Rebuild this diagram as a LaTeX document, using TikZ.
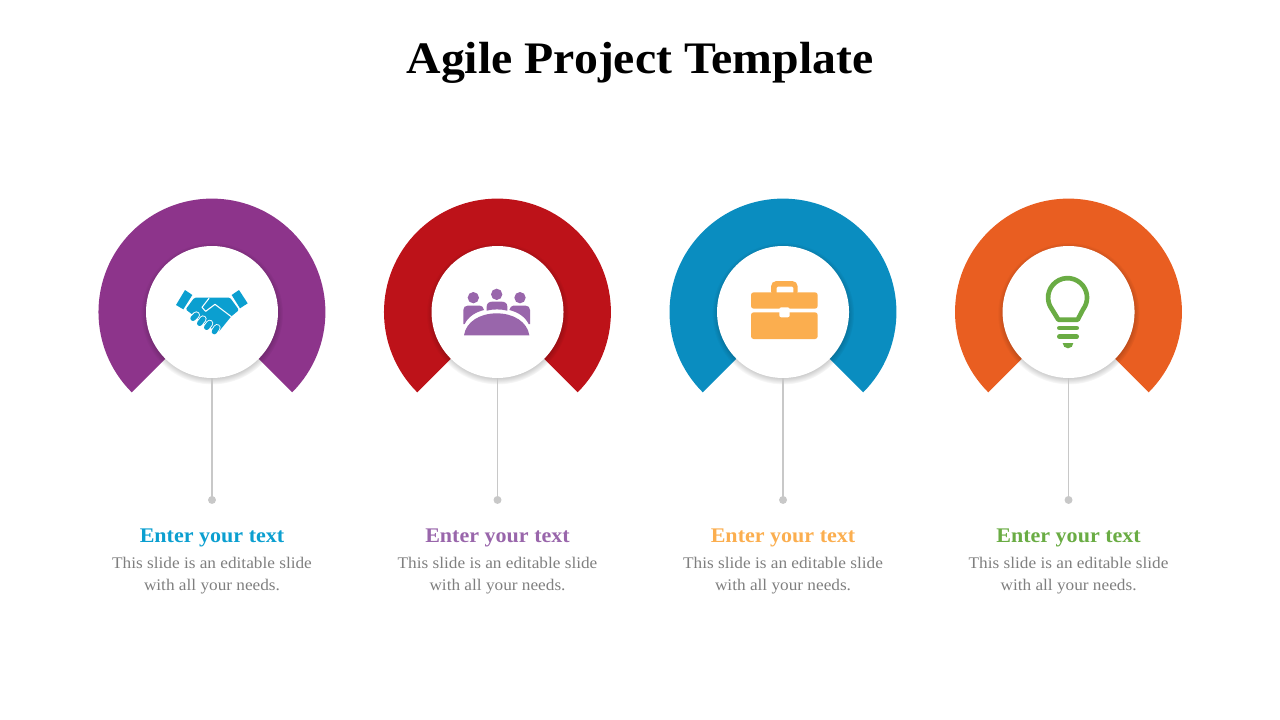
\documentclass[tikz,border=0pt]{standalone}
\usepackage{fontspec}
\setmainfont[FakeStretch=1.06]{Liberation Serif}
\usepackage{xcolor}
\usetikzlibrary{positioning,backgrounds,fadings,calc}
\definecolor{ring-p}{HTML}{8D348B}
\definecolor{ring-r}{HTML}{BD1219}
\definecolor{ring-b}{HTML}{0A8DC0}
\definecolor{ring-o}{HTML}{E95E21}
\definecolor{icon-b}{HTML}{0B9FD0}
\definecolor{icon-p}{HTML}{9966AB}
\definecolor{icon-o}{HTML}{FBAE4F}
\definecolor{icon-g}{HTML}{6AAC44}
\definecolor{gray-a}{HTML}{C8C8C8}
\definecolor{gray-b}{HTML}{7F7F7F}
\begin{document}
\begin{tikzpicture}
[
x=0.75pt, y=-0.75pt,
hub-a/.style={circle, fill=white, inner sep=0pt, outer sep=0pt, minimum size = 34.79mm},
dot-a/.style={circle, fill=gray-a, inner sep=0pt, outer sep=0pt, minimum size = 2.10mm},
line-a/.style={draw=gray-a, line width=1.3pt},
head-a/.style={font=\bfseries\fontsize{15.6}{18}\selectfont, inner sep=0pt},
text-a/.style={font=\fontsize{12.2}{16.5}\selectfont, text=gray-b, align=center, inner sep=0pt},
zoom-a/.style={x=0.25pt, y=-0.25pt},
gap-a/.style={draw=white, line width=0.8pt, line cap=round, line join=round},
finger-a/.style={draw=white, double=icon-b, double distance=4.0pt, line width=0.7pt, line cap=round}
]
\useasboundingbox (0,0) rectangle (1280,720);
\node (title)  [font=\bfseries\fontsize{33.8}{36}\selectfont] at (640,63) {Agile Project Template};

\node (hub-1)  [hub-a] at (212,312) {};
\node (hub-2)  [hub-a, right = 40.47mm of hub-1] {};
\node (hub-3)  [hub-a, right = 40.47mm of hub-2] {};
\node (hub-4)  [hub-a, right = 40.47mm of hub-3] {};

\node (dot-1)  [dot-a, below = 31.10mm of hub-1] {};
\node (dot-2)  [dot-a, below = 31.10mm of hub-2] {};
\node (dot-3)  [dot-a, below = 31.10mm of hub-3] {};
\node (dot-4)  [dot-a, below = 31.10mm of hub-4] {};

\node (head-1) [head-a, text=icon-b, below = 6.50mm of dot-1] {Enter your text};
\node (head-2) [head-a, text=icon-p, below = 6.50mm of dot-2] {Enter your text};
\node (head-3) [head-a, text=icon-o, below = 6.50mm of dot-3] {Enter your text};
\node (head-4) [head-a, text=icon-g, below = 6.50mm of dot-4] {Enter your text};

\node (text-1) [text-a, below = 2.60mm of head-1] {This slide is an editable slide\\with all your needs.};
\node (text-2) [text-a, below = 2.60mm of head-2] {This slide is an editable slide\\with all your needs.};
\node (text-3) [text-a, below = 2.60mm of head-3] {This slide is an editable slide\\with all your needs.};
\node (text-4) [text-a, below = 2.60mm of head-4] {This slide is an editable slide\\with all your needs.};

\begin{scope}[on background layer]
\foreach \n/\c in {1/ring-p, 2/ring-r, 3/ring-b, 4/ring-o} {
  \fill[\c] (hub-\n.center) -- ++(-80.3,80.3) arc[start angle=225, end angle=-45, radius=85.1pt] -- cycle;
  \fill[black, opacity=0.3, path fading=circle with fuzzy edge 15 percent] ($(hub-\n.center)+(0,1.5)$) circle (71);
  \draw[line-a] (hub-\n.south) -- (dot-\n.center);
}
\end{scope}

% handshake
\begin{scope}[shift={(165,275)}, zoom-a, icon-b]
\fill (33,90) -- (60,45) -- (82,60) -- (55,103) -- cycle;
\fill (200,60) -- (222,45) -- (248,85) -- (225,100) -- cycle;
\fill[rounded corners=1pt] (88,68) -- (195,68) -- (222,105) -- (198,125) -- (160,172) -- (130,155) -- (90,125) -- (62,103) -- cycle;
\draw[gap-a] (132,70) -- (111,97) -- (122,109) -- (150,88) -- (199,125);
\draw[finger-a] (148,170) -- (156,158);
\draw[finger-a] (125,157) -- (134,145);
\draw[finger-a] (104,145) -- (114,132);
\draw[finger-a] (84,130) -- (94,120);
\end{scope}

% people
\begin{scope}[shift={(430,250)}, zoom-a, icon-p]
\fill (130,143) circle (17);
\fill (200,133) circle (17);
\fill (270,143) circle (17);
\fill (102,256) .. controls (108,215) and (150,190) .. (200,190) .. controls (250,190) and (292,215) .. (298,256) -- cycle;
\fill (100,222) -- (100,180) .. controls (100,172) and (105,167) .. (113,167) -- (150,167) .. controls (156,167) and (160,172) .. (162,180) .. controls (135,187) and (115,200) .. (104,222) -- cycle;
\fill (300,222) -- (300,180) .. controls (300,172) and (295,167) .. (287,167) -- (250,167) .. controls (244,167) and (240,172) .. (238,180) .. controls (265,187) and (285,200) .. (296,222) -- cycle;
\fill (170,182) -- (170,170) .. controls (170,160) and (177,155) .. (187,155) -- (215,155) .. controls (225,155) and (232,160) .. (232,170) -- (232,182) .. controls (212,177) and (190,177) .. (170,182) -- cycle;
\end{scope}

% briefcase
\begin{scope}[shift={(715,250)}, zoom-a, icon-o]
\fill[rounded corners=4pt] (168,140) -- (168,93) -- (248,93) -- (248,140) -- cycle;
\fill[white, rounded corners=1pt] (185,135) -- (185,110) -- (235,110) -- (235,135) -- cycle;
\fill[rounded corners=2pt] (108,176) -- (108,127) -- (308,127) -- (308,176) -- cycle;
\fill[rounded corners=2pt] (108,187) -- (108,267) -- (308,267) -- (308,187) -- cycle;
\fill[white, rounded corners=1.5pt] (193,172) rectangle (224,202);
\end{scope}

% bulb
\begin{scope}[shift={(1000,250)}, zoom-a, icon-g]
\draw[line width=3.5pt, line join=round] (175,209) -- (156,178) arc[start angle=217, end angle=-37, radius=14.6pt] -- (233,209) -- cycle;
\draw[line width=3.5pt, line cap=round] (178,234) -- (230,234);
\draw[line width=3.5pt, line cap=round] (178,260) -- (230,260);
\fill (188,279) -- (220,279) arc[start angle=0, end angle=-180, radius=4pt] -- cycle;
\end{scope}
\end{tikzpicture}
\end{document}
